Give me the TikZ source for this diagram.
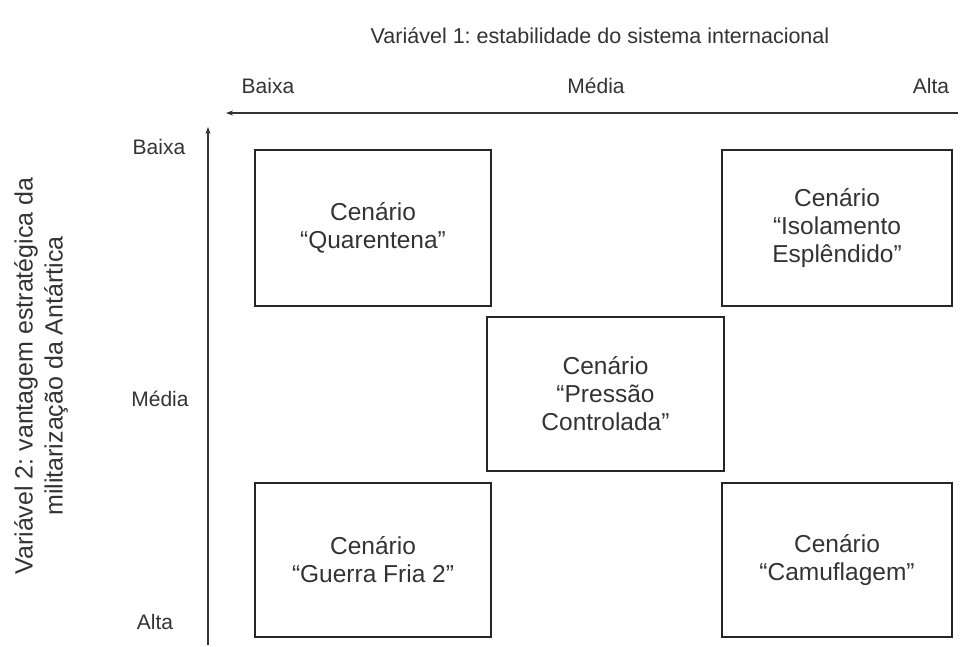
\documentclass[tikz,border=0pt]{standalone}
\usepackage{fontspec}
\setmainfont{Liberation Sans}
\usetikzlibrary{arrows.meta}
\frenchspacing
\begin{document}
\begin{tikzpicture}[x=1pt,y=-1pt,
  scen/.style={draw=black!85,line width=2.2pt,align=center,font=\fontsize{24.5}{28}\selectfont,text=black!80,inner sep=0pt},
  lab/.style={font=\fontsize{21}{24}\selectfont,text=black!80},
  axis/.style={draw=black!80,line width=1.3pt,-{Stealth[length=7pt,width=5pt]}}]
\useasboundingbox (0,0) rectangle (967,646);
\node[font=\fontsize{21.5}{25}\selectfont,text=black!80] (t1) at (600,36) {Variável 1: estabilidade do sistema internacional};
\node[lab] (xb) at (268,86) {Baixa};
\node[lab] (xm) at (596,86) {Média};
\node[lab] (xa) at (931,86) {Alta};
\coordinate (hs) at (958,113);
\coordinate (he) at (226,113);
\draw[axis] (hs) -- (he);
\coordinate (vs) at (208,645);
\coordinate (ve) at (208,127);
\draw[axis] (vs) -- (ve);
\node[lab] (yb) at (159,147) {Baixa};
\node[lab] (ym) at (160,399) {Média};
\node[lab] (ya) at (155,622) {Alta};
\node[rotate=90,align=center,font=\fontsize{25}{30}\selectfont,text=black!80] (t2) at (41,376) {Variável 2: vantagem estratégica da\\militarização da Antártica};
\node[scen,minimum width=236pt,minimum height=156pt] (q) at (373,228) {Cenário\\“Quarentena”};
\node[scen,minimum width=230pt,minimum height=156pt] (i) at (837,228) {Cenário\\“Isolamento\\Esplêndido”};
\node[scen,minimum width=237pt,minimum height=154pt] (p) at (605.5,394) {Cenário\\“Pressão\\Controlada”};
\node[scen,minimum width=236pt,minimum height=154pt] (g) at (373,560) {Cenário\\“Guerra Fria 2”};
\node[scen,minimum width=230pt,minimum height=154pt] (c) at (837,560) {Cenário\\“Camuflagem”};
\end{tikzpicture}
\end{document}
